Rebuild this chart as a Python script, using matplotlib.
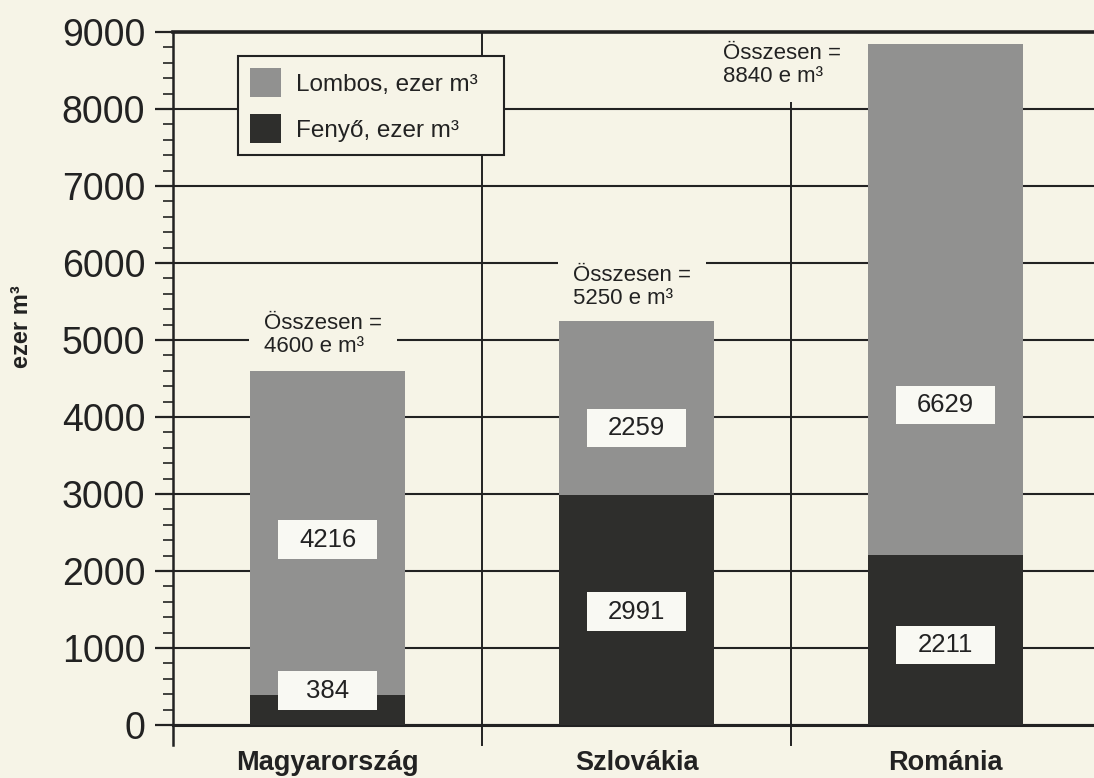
import matplotlib.pyplot as plt
import numpy as np
from matplotlib.patches import Patch, Rectangle
from matplotlib.ticker import MultipleLocator

plt.rcParams['font.family'] = ['Liberation Sans', 'DejaVu Sans']

# adatok (ezer m3)
countries = ["Magyarország", "Szlovákia", "Románia"]
fenyo = [384, 2991, 2211]
lombos = [4216, 2259, 6629]
osszesen = [4600, 5250, 8840]

# feliratok helye (ezer m3 skálán)
fenyo_label_y = [442, 1468, 1039]
lombos_label_y = [2403, 3857, 4156]
total_label_y = [5065, 5688, 8571]
total_label_dx = [-0.205, -0.205, -0.72]

bg = "#f6f4e7"
light = "#919190"
dark = "#2e2e2c"
ink = "#222222"

fig = plt.figure(figsize=(10.94, 7.78), dpi=100)
fig.patch.set_facecolor(bg)
ax = fig.add_axes([173/1094, 53/778, 927/1094, 693/778])
ax.set_facecolor(bg)

x = np.arange(len(countries))
ax.bar(x, fenyo, width=0.5, color=dark, zorder=3)
ax.bar(x, lombos, bottom=fenyo, width=0.5, color=light, zorder=3)

ax.set_xlim(-0.5, 2.5)
ax.set_ylim(0, 9000)
ax.set_yticks(range(0, 9001, 1000))
ax.yaxis.set_minor_locator(MultipleLocator(200))
ax.yaxis.grid(True, which='major', color=ink, lw=1.5, zorder=1)
ax.set_axisbelow(True)

for s in ['right', 'left']:
    ax.spines[s].set_visible(False)
ax.spines['top'].set_linewidth(2.6)
ax.spines['bottom'].set_linewidth(2.2)
ax.spines['top'].set_color(ink)
ax.spines['bottom'].set_color(ink)

# bal tengely és elválasztó vonalak (lenyúlnak a 0 alá)
for xv in [-0.5, 0.5, 1.5]:
    ax.axvline(xv, ymin=-0.029, ymax=1, color=ink, lw=1.8 if xv < 0 else 1.4,
               clip_on=False, zorder=1.5)

ax.tick_params(axis='y', which='major', length=13, width=1.6, pad=7,
               labelsize=27, color=ink, labelcolor=ink)
ax.tick_params(axis='y', which='minor', length=7, width=1.2, color=ink)
ax.set_xticks(x, countries, fontsize=19.5, fontweight='bold', color=ink)
ax.tick_params(axis='x', length=0, pad=18)

fig.text(22/1094, 1-327/778, "ezer m³", rotation=90, fontsize=17,
         fontweight='bold', color=ink, ha='center', va='center')

# értékek fehér dobozban
for xi, v, ly in zip(x, fenyo, fenyo_label_y):
    ax.add_patch(Rectangle((xi - 0.159, ly - 253), 0.318, 506, fc="#f9f9f3",
                           ec='none', zorder=4))
    ax.text(xi, ly, str(v), ha='center', va='center', fontsize=18.5,
            color=ink, zorder=5)
for xi, v, ly in zip(x, lombos, lombos_label_y):
    ax.add_patch(Rectangle((xi - 0.159, ly - 253), 0.318, 506, fc="#f9f9f3",
                           ec='none', zorder=4))
    ax.text(xi, ly, str(v), ha='center', va='center', fontsize=18.5,
            color=ink, zorder=5)

# összesen feliratok
for xi, t, ty, dx in zip(x, osszesen, total_label_y, total_label_dx):
    ax.text(xi + dx, ty, "Összesen =\n" + str(t) + " e m³", ha='left',
            va='center', fontsize=16, linespacing=1.1, color=ink, zorder=2,
            bbox=dict(fc=bg, ec='none', pad=11))

handles = [Patch(facecolor=light), Patch(facecolor=dark)]
leg = ax.legend(handles, ["Lombos, ezer m³  ", "Fenyő, ezer m³"],
                loc='upper left', bbox_to_anchor=(238/1094, 1 - 56/778),
                bbox_transform=fig.transFigure, fontsize=17.5, frameon=True,
                fancybox=False, edgecolor=ink, facecolor=bg, framealpha=1,
                handlelength=1.25, handleheight=1.45, labelspacing=0.7,
                borderpad=0.5, handletextpad=0.65, borderaxespad=0)
leg.get_frame().set_linewidth(1.5)
for t in leg.get_texts():
    t.set_color(ink)

fig.savefig("out.png", dpi=100, facecolor=bg)
